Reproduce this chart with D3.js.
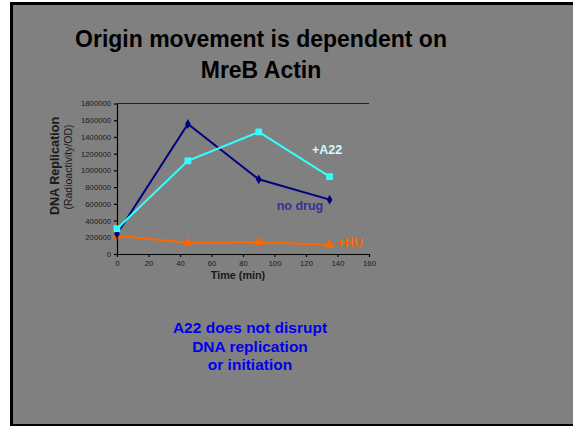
<!DOCTYPE html>
<html>
<head>
<meta charset="utf-8">
<script src="https://cdn.jsdelivr.net/npm/d3@7"></script>
<style>
  body { margin: 0; background: #fff; }
  svg { display: block; font-family: Arial, "Liberation Sans", sans-serif; }
</style>
</head>
<body>
<svg width="573" height="426"></svg>
<script>
// data
const times = [0, 45, 90, 135];
const noDrug = [240000, 1555000, 893000, 650000];
const plusA22 = [303000, 1115000, 1460000, 925000];
const plusHU = [218000, 135000, 142000, 112000];
const xTicks = [0, 20, 40, 60, 80, 100, 120, 140, 160];
const yTicks = [0, 200000, 400000, 600000, 800000, 1000000, 1200000, 1400000, 1600000, 1800000];

const svg = d3.select("svg");

// slide frame
svg.append("rect").attr("x", 10).attr("y", 2).attr("width", 563).attr("height", 424).attr("fill", "#000");
svg.append("rect").attr("x", 13).attr("y", 5).attr("width", 560).attr("height", 419).attr("fill", "#808080");

// title
const title = svg.append("text").attr("text-anchor", "middle")
    .attr("font-weight", "bold").attr("font-size", 23).attr("fill", "#000");
title.append("tspan").attr("x", 261).attr("y", 47).text("Origin movement is dependent on");
title.append("tspan").attr("x", 261).attr("y", 78).text("MreB Actin");

const xScale = d3.scaleLinear().domain([0, 160]).range([117, 369]);
const yScale = d3.scaleLinear().domain([0, 1800000]).range([254, 103.5]);

// top border line of plot area
svg.append("line")
    .attr("x1", xScale(0)).attr("x2", xScale(160))
    .attr("y1", yScale(1800000)).attr("y2", yScale(1800000))
    .attr("stroke", "#222").attr("stroke-width", 1);

const xAxis = svg.append("g")
    .attr("transform", "translate(0," + yScale(0) + ")")
    .call(d3.axisBottom(xScale).tickValues(xTicks).tickSize(3).tickSizeOuter(0).tickPadding(4));
const yAxis = svg.append("g")
    .attr("transform", "translate(" + xScale(0) + ",0)")
    .call(d3.axisLeft(yScale).tickValues(yTicks).tickSize(3).tickSizeOuter(0).tickPadding(3).tickFormat(d3.format("d")));

[xAxis, yAxis].forEach(a => {
    a.selectAll("path, line").attr("stroke", "#000").attr("stroke-width", 1.2);
    a.selectAll("text").attr("font-size", 7.7).attr("fill", "#1a1a1a").attr("font-family", "Arial, 'Liberation Sans', sans-serif");
});

// axis titles
svg.append("text").attr("x", 238).attr("y", 279).attr("text-anchor", "middle")
    .attr("font-weight", "bold").attr("font-size", 10.8).attr("fill", "#1a1a1a").text("Time (min)");
svg.append("text").attr("transform", "translate(58.5,166) rotate(-90)").attr("text-anchor", "middle")
    .attr("font-weight", "bold").attr("font-size", 12.6).attr("fill", "#1a1a1a").text("DNA Replication");
svg.append("text").attr("transform", "translate(72,167) rotate(-90)").attr("text-anchor", "middle")
    .attr("font-size", 10.5).attr("fill", "#1a1a1a").text("(Radioactivity/OD)");

const line = d3.line().x(d => xScale(d[0])).y(d => yScale(d[1]));

const series = [
    { name: "+HU", vals: plusHU, color: "#ff6600", shape: d3.symbolTriangle, size: 40 },
    { name: "no drug", vals: noDrug, color: "#000080", shape: d3.symbolDiamond, size: 28 },
    { name: "+A22", vals: plusA22, color: "#33ffff", shape: d3.symbolSquare, size: 45 }
];

series.forEach(s => {
    const pts = times.map((t, i) => [t, s.vals[i]]);
    svg.append("path").datum(pts).attr("d", line)
        .attr("fill", "none").attr("stroke", s.color).attr("stroke-width", 2);
    svg.append("g").selectAll("path").data(pts).enter().append("path")
        .attr("d", d3.symbol().type(s.shape).size(s.size))
        .attr("transform", d => "translate(" + xScale(d[0]) + "," + yScale(d[1]) + ")")
        .attr("fill", s.color);
});

// series labels
svg.append("text").attr("x", 327).attr("y", 153.5).attr("text-anchor", "middle")
    .attr("font-weight", "bold").attr("font-size", 12.5).attr("fill", "#ccffff").text("+A22");
svg.append("text").attr("x", 300).attr("y", 210).attr("text-anchor", "middle")
    .attr("font-weight", "bold").attr("font-size", 12.5).attr("fill", "#333399").text("no drug");
svg.append("text").attr("x", 350).attr("y", 246.5).attr("text-anchor", "middle")
    .attr("font-weight", "bold").attr("font-size", 12.5).attr("fill", "#ff6600").text("+HU");

// bottom note
const note = svg.append("text").attr("text-anchor", "middle")
    .attr("font-weight", "bold").attr("font-size", 15.5).attr("fill", "#0000ee");
["A22 does not disrupt", "DNA replication", "or initiation"].forEach((t, i) => {
    note.append("tspan").attr("x", 250).attr("y", 333 + i * 18.5).text(t);
});
</script>
</body>
</html>
